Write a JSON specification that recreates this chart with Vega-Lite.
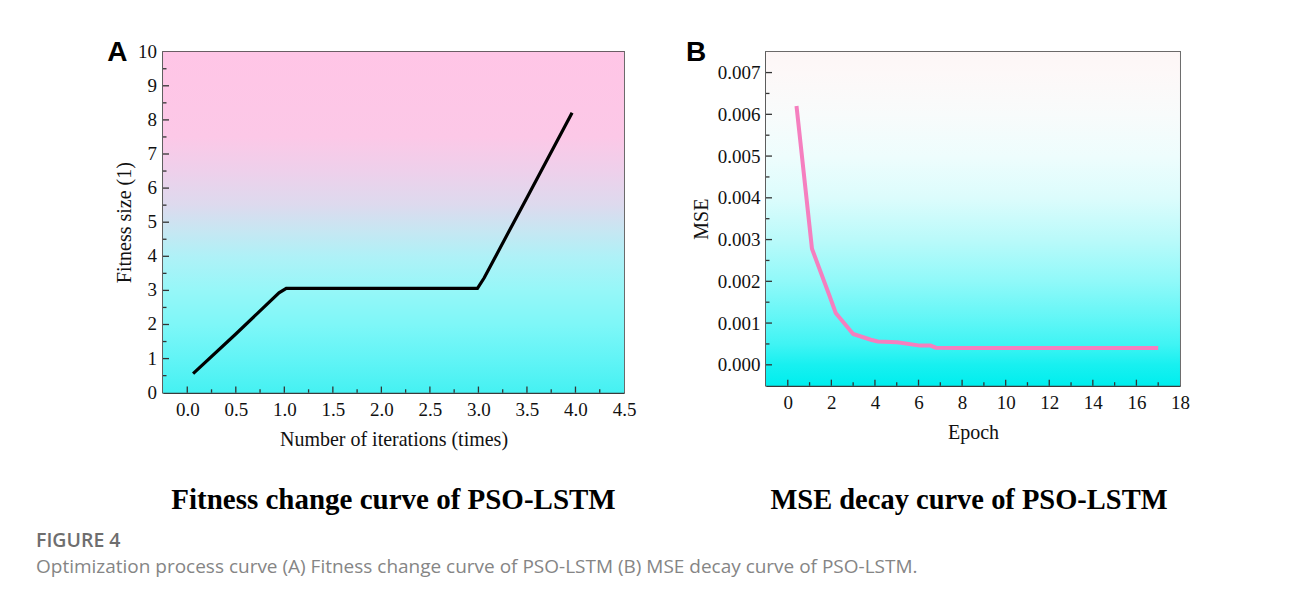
{
  "$schema": "https://vega.github.io/schema/vega-lite/v6.json",
  "background": "white",
  "padding": {"left": 36, "top": 37.7, "right": 0, "bottom": 0},
  "bounds": "flush",
  "spacing": 142,
  "title": {
    "text": "FIGURE 4",
    "subtitle": "Optimization process curve (A) Fitness change curve of PSO-LSTM (B) MSE decay curve of PSO-LSTM.",
    "orient": "bottom",
    "anchor": "start",
    "frame": "group",
    "dx": -127,
    "offset": 17,
    "font": "Open Sans",
    "fontSize": 19.5,
    "fontWeight": 600,
    "color": "#6e6e6e",
    "subtitleFont": "Open Sans",
    "subtitleFontSize": 19,
    "subtitleColor": "#858585",
    "subtitlePadding": 6
  },
  "hconcat": [
    {
      "width": 461,
      "height": 341,
      "title": {
        "text": "Fitness change curve of PSO-LSTM",
        "orient": "bottom",
        "anchor": "middle",
        "frame": "group",
        "offset": 36,
        "font": "Liberation Serif",
        "fontSize": 29,
        "fontWeight": "bold",
        "color": "#000000"
      },
      "layer": [
        {
          "data": {"values": [{"x": -0.25, "xe": 4.5, "y": 0, "ye": 10}]},
          "mark": {
            "type": "rect",
            "fill": {
              "gradient": "linear", "x1": 0, "y1": 0, "x2": 0, "y2": 1,
              "stops": [
                {"offset": 0, "color": "#ffc5e6"},
                {"offset": 0.25, "color": "#fcc8e7"},
                {"offset": 0.35, "color": "#eed0eb"},
                {"offset": 0.45, "color": "#dddaee"},
                {"offset": 0.52, "color": "#c8e6f2"},
                {"offset": 0.6, "color": "#aff1f7"},
                {"offset": 0.7, "color": "#96f7f8"},
                {"offset": 0.8, "color": "#7ef7f8"},
                {"offset": 0.9, "color": "#62f4f6"},
                {"offset": 1, "color": "#45f1f2"}
              ]
            }
          },
          "encoding": {
            "x": {
              "field": "x", "type": "quantitative",
              "scale": {"domain": [-0.25, 4.5], "nice": false, "zero": false},
              "axis": {
                "title": "Number of iterations (times)",
                "ticks": false, "tickSize": 0,
                "values": [0,0.5,1,1.5,2,2.5,3,3.5,4,4.5],
                "format": ".1f",
                "labelPadding": 8
              }
            },
            "x2": {"field": "xe"},
            "y": {
              "field": "y", "type": "quantitative",
              "scale": {"domain": [0, 10], "nice": false, "zero": false},
              "axis": {
                "title": "Fitness size (1)",
                "ticks": false, "tickSize": 0,
                "labels": false,
                "titlePadding": 29
              }
            },
            "y2": {"field": "ye"}
          }
        },
        {
          "data": {"values": [{"x": 0}, {"x": 0.5}, {"x": 1}, {"x": 1.5}, {"x": 2}, {"x": 2.5}, {"x": 3}, {"x": 3.5}, {"x": 4}]},
          "mark": {"type": "rule", "color": "#333333", "strokeWidth": 1.3},
          "encoding": {"x": {"field": "x", "type": "quantitative"}, "y": {"datum": 0}, "y2": {"datum": 0.18}}
        },
        {
          "data": {"values": [{"x": 0.25}, {"x": 0.75}, {"x": 1.25}, {"x": 1.75}, {"x": 2.25}, {"x": 2.75}, {"x": 3.25}, {"x": 3.75}, {"x": 4.25}]},
          "mark": {"type": "rule", "color": "#333333", "strokeWidth": 1.3},
          "encoding": {"x": {"field": "x", "type": "quantitative"}, "y": {"datum": 0}, "y2": {"datum": 0.1}}
        },
        {
          "data": {"values": [{"y": 1}, {"y": 2}, {"y": 3}, {"y": 4}, {"y": 5}, {"y": 6}, {"y": 7}, {"y": 8}, {"y": 9}]},
          "mark": {"type": "rule", "color": "#333333", "strokeWidth": 1.3},
          "encoding": {"y": {"field": "y", "type": "quantitative"}, "x": {"datum": -0.25}, "x2": {"datum": -0.188}}
        },
        {
          "data": {"values": [{"y": 0.5}, {"y": 1.5}, {"y": 2.5}, {"y": 3.5}, {"y": 4.5}, {"y": 5.5}, {"y": 6.5}, {"y": 7.5}, {"y": 8.5}, {"y": 9.5}]},
          "mark": {"type": "rule", "color": "#333333", "strokeWidth": 1.3},
          "encoding": {"y": {"field": "y", "type": "quantitative"}, "x": {"datum": -0.25}, "x2": {"datum": -0.214}}
        },
        {
          "data": {"values": [{"y": 0, "t": "0"}, {"y": 1, "t": "1"}, {"y": 2, "t": "2"}, {"y": 3, "t": "3"}, {"y": 4, "t": "4"}, {"y": 5, "t": "5"}, {"y": 6, "t": "6"}, {"y": 7, "t": "7"}, {"y": 8, "t": "8"}, {"y": 9, "t": "9"}, {"y": 10, "t": "10"}]},
          "mark": {"type": "text", "font": "Liberation Serif", "fontSize": 19, "align": "right", "baseline": "middle", "dx": -6, "color": "#111111"},
          "encoding": {"y": {"field": "y", "type": "quantitative"}, "x": {"datum": -0.25}, "text": {"field": "t"}}
        },
        {
          "data": {"values": [
            {"x": 0.06, "y": 0.56},
            {"x": 0.5, "y": 1.72},
            {"x": 0.945, "y": 2.93},
            {"x": 1.02, "y": 3.06},
            {"x": 2.99, "y": 3.06},
            {"x": 3.06, "y": 3.37},
            {"x": 3.5, "y": 5.72},
            {"x": 3.965, "y": 8.21}
          ]},
          "mark": {"type": "line", "color": "#000000", "strokeWidth": 3.2},
          "encoding": {
            "x": {"field": "x", "type": "quantitative"},
            "y": {"field": "y", "type": "quantitative"}
          }
        },
        {
          "data": {"values": [{"x": -0.72, "y": 9.97, "t": "A"}]},
          "mark": {"type": "text", "font": "Liberation Sans", "fontWeight": "bold", "fontSize": 28, "align": "center", "baseline": "middle", "color": "#000000"},
          "encoding": {
            "x": {"field": "x", "type": "quantitative"},
            "y": {"field": "y", "type": "quantitative"},
            "text": {"field": "t"}
          }
        }
      ]
    },
    {
      "width": 414,
      "height": 334,
      "title": {
        "text": "MSE decay curve of PSO-LSTM",
        "orient": "bottom",
        "anchor": "middle",
        "frame": "group",
        "dx": -4,
        "offset": 43,
        "font": "Liberation Serif",
        "fontSize": 28.5,
        "fontWeight": "bold",
        "color": "#000000"
      },
      "layer": [
        {
          "data": {"values": [{"x": -1, "xe": 18, "y": -0.0005, "ye": 0.0075}]},
          "mark": {
            "type": "rect",
            "fill": {
              "gradient": "linear", "x1": 0, "y1": 0, "x2": 0, "y2": 1,
              "stops": [
                {"offset": 0, "color": "#fdf6f6"},
                {"offset": 0.0625, "color": "#fdf8f8"},
                {"offset": 0.1875, "color": "#f8fbfb"},
                {"offset": 0.3125, "color": "#eefdfd"},
                {"offset": 0.4375, "color": "#dcfcfc"},
                {"offset": 0.5625, "color": "#bafafa"},
                {"offset": 0.6875, "color": "#90f9f9"},
                {"offset": 0.8125, "color": "#5cf6f6"},
                {"offset": 0.875, "color": "#40f4f4"},
                {"offset": 0.9375, "color": "#18f0f0"},
                {"offset": 1, "color": "#00eeee"}
              ]
            }
          },
          "encoding": {
            "x": {
              "field": "x", "type": "quantitative",
              "scale": {"domain": [-1, 18], "nice": false, "zero": false},
              "axis": {
                "title": "Epoch",
                "ticks": false, "tickSize": 0,
                "values": [0,2,4,6,8,10,12,14,16,18],
                "labelPadding": 8
              }
            },
            "x2": {"field": "xe"},
            "y": {
              "field": "y", "type": "quantitative",
              "scale": {"domain": [-0.0005, 0.0075], "nice": false, "zero": false},
              "axis": {
                "title": "MSE",
                "ticks": false, "tickSize": 0,
                "values": [0,0.001,0.002,0.003,0.004,0.005,0.006,0.007],
                "format": ".3f",
                "labelPadding": 6
              }
            },
            "y2": {"field": "ye"}
          }
        },
        {
          "data": {"values": [{"x": 0}, {"x": 2}, {"x": 4}, {"x": 6}, {"x": 8}, {"x": 10}, {"x": 12}, {"x": 14}, {"x": 16}]},
          "mark": {"type": "rule", "color": "#333333", "strokeWidth": 1.3},
          "encoding": {"x": {"field": "x", "type": "quantitative"}, "y": {"datum": -0.0005}, "y2": {"datum": -0.000356}}
        },
        {
          "data": {"values": [{"x": 1}, {"x": 3}, {"x": 5}, {"x": 7}, {"x": 9}, {"x": 11}, {"x": 13}, {"x": 15}, {"x": 17}]},
          "mark": {"type": "rule", "color": "#333333", "strokeWidth": 1.3},
          "encoding": {"x": {"field": "x", "type": "quantitative"}, "y": {"datum": -0.0005}, "y2": {"datum": -0.000416}}
        },
        {
          "data": {"values": [{"y": 0}, {"y": 0.001}, {"y": 0.002}, {"y": 0.003}, {"y": 0.004}, {"y": 0.005}, {"y": 0.006}, {"y": 0.007}]},
          "mark": {"type": "rule", "color": "#333333", "strokeWidth": 1.3},
          "encoding": {"y": {"field": "y", "type": "quantitative"}, "x": {"datum": -1}, "x2": {"datum": -0.725}}
        },
        {
          "data": {"values": [{"y": 0.0005}, {"y": 0.0015}, {"y": 0.0025}, {"y": 0.0035}, {"y": 0.0045}, {"y": 0.0055}, {"y": 0.0065}]},
          "mark": {"type": "rule", "color": "#333333", "strokeWidth": 1.3},
          "encoding": {"y": {"field": "y", "type": "quantitative"}, "x": {"datum": -1}, "x2": {"datum": -0.84}}
        },
        {
          "data": {"values": [
            {"x": 0.4, "y": 0.0062},
            {"x": 1.11, "y": 0.00278},
            {"x": 1.91, "y": 0.00166},
            {"x": 2.2, "y": 0.00124},
            {"x": 3.0, "y": 0.00074},
            {"x": 3.81, "y": 0.0006},
            {"x": 4.13, "y": 0.00056},
            {"x": 5.02, "y": 0.00054},
            {"x": 6.06, "y": 0.00046},
            {"x": 6.55, "y": 0.00046},
            {"x": 6.79, "y": 0.00041},
            {"x": 8.0, "y": 0.0004},
            {"x": 17.0, "y": 0.0004}
          ]},
          "mark": {"type": "line", "color": "#f57fbf", "strokeWidth": 4},
          "encoding": {
            "x": {"field": "x", "type": "quantitative"},
            "y": {"field": "y", "type": "quantitative"}
          }
        },
        {
          "data": {"values": [{"x": -4.21, "y": 0.00748, "t": "B"}]},
          "mark": {"type": "text", "font": "Liberation Sans", "fontWeight": "bold", "fontSize": 28, "align": "center", "baseline": "middle", "color": "#000000"},
          "encoding": {
            "x": {"field": "x", "type": "quantitative"},
            "y": {"field": "y", "type": "quantitative"},
            "text": {"field": "t"}
          }
        }
      ]
    }
  ],
  "config": {
    "view": {"stroke": "#3a3a3a", "strokeWidth": 1.5},
    "axis": {
      "grid": false,
      "domainColor": "#3a3a3a",
      "domainWidth": 1.5,
      "labelFont": "Liberation Serif",
      "labelFontSize": 19,
      "labelColor": "#111111",
      "labelOverlap": false,
      "labelFlush": false,
      "labelBound": false,
      "titleFont": "Liberation Serif",
      "titleFontSize": 20,
      "titleFontWeight": "normal",
      "titleColor": "#111111"
    },
    "axisX": {"titlePadding": 10},
    "axisY": {"titlePadding": 6}
  }
}
